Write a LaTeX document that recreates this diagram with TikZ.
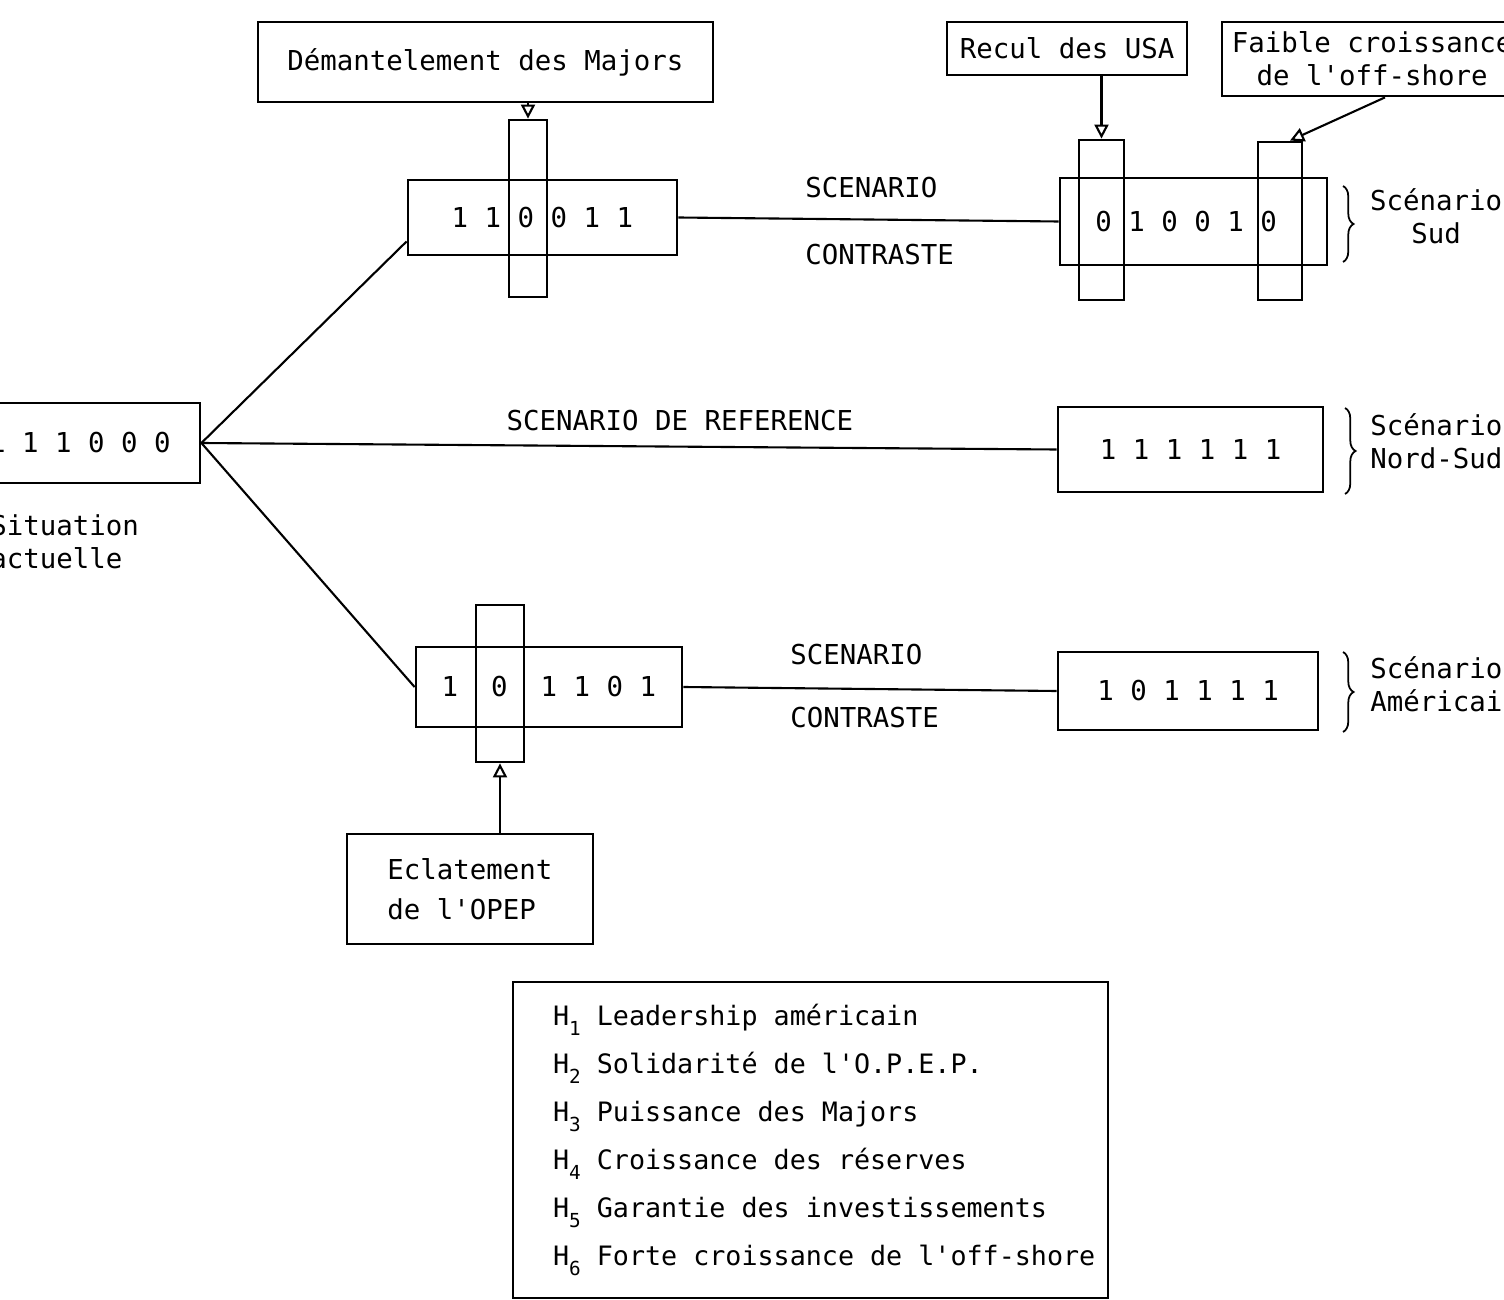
\documentclass[tikz,border=0pt]{standalone}
\usepackage{fontspec}
\setmonofont{DejaVu Sans Mono}
\usetikzlibrary{arrows.meta,positioning,calc,decorations.pathreplacing}
\newcommand{\hypline}[2]{\mbox{\spaceskip=0pt\xspaceskip=0pt H\raisebox{-0.65ex}{\fontsize{11}{11}\selectfont#1} #2}}
\tikzset{
    % Base style: typewriter text, box sizes given in scan pixels
    base/.style={font=\ttfamily\fontsize{15.6}{19}\selectfont, inner sep=0pt},
    px size/.style 2 args={minimum width=#1*0.02cm, minimum height=#2*0.02cm},
    % Boxes holding the six hypotheses
    codebox/.style={base, draw, line width=1.6pt},
    % Vertical strip over the hypothesis that changes
    strip/.style={draw, line width=1.6pt, inner sep=0pt},
    % Event boxes
    eventbox/.style={base, draw, line width=1.6pt, align=left},
    % Plain labels
    tag/.style={base, align=left},
    % Connectors
    link/.style={line width=1.2pt},
    arrow/.style={-{Triangle[open, length=8pt, width=8pt]}, line width=1.2pt},
    scenbrace/.style={decorate, decoration={brace, amplitude=6pt}, line width=1pt},
}

\begin{document}
\begin{tikzpicture}[x=0.02cm, y=-0.02cm]
    \useasboundingbox (0,0) rectangle (1504,1300);
    \clip (0,0) rectangle (1504,1300);

    % Present situation
    \node (now) [codebox, px size={240}{80}] at (80,443) {1 1 1 0 0 0};
    \node (nowtag) [tag, anchor=west] at (-10,542) {Situation\\actuelle};

    % Upper branch
    \node (top) [codebox, px size={269}{75}] at (542.5,217.5) {1 1 0 0 1 1};
    \node (topstrip) [strip, px size={38}{177}] at (528,208.5) {};
    \node (majors) [eventbox, px size={455}{80}] at (485.5,62) {Démantelement des Majors};
    \node (sud) [codebox, px size={267}{87}] at (1193.5,221.5) {\hspace{-0.3cm}0 1 0 0 1 0};
    \node (sudA) [strip, px size={45}{160}] at (1101.5,220) {};
    \node (sudB) [strip, px size={44}{158}] at (1280,221) {};
    \node (usa) [eventbox, px size={240}{53}] at (1067,48.5) {Recul des USA};
    \node (offshore) [eventbox, align=center, px size={300}{74}] at (1372,59) {Faible croissance\\de l'off-shore};
    \node (sc1) [tag, anchor=west] at (805,188) {SCENARIO};
    \node (co1) [tag, anchor=west] at (805,255) {CONTRASTE};

    % Middle branch
    \node (ns) [codebox, px size={265}{85}] at (1190.5,449.5) {1 1 1 1 1 1};
    \node (ref) [tag] at (680,421) {SCENARIO DE REFERENCE};

    % Lower branch
    \node (bot) [codebox, px size={266}{80}] at (549,687) {1~~0~~1 1 0 1};
    \node (botstrip) [strip, px size={48}{157}] at (500,683.5) {};
    \node (opep) [eventbox, px size={246}{110}] at (470,889) {Eclatement\\[4pt]de l'OPEP};
    \node (am) [codebox, px size={260}{78}] at (1188,691) {1 0 1 1 1 1};
    \node (sc2) [tag, anchor=west] at (790,655) {SCENARIO};
    \node (co2) [tag, anchor=west] at (790,718) {CONTRASTE};

    % Scenario names
    \draw [scenbrace] (1343,186) -- (1343,262);
    \node (sudtag) [tag, align=center] at (1436,216) {Scénario\\Sud};
    \draw [scenbrace] (1345,408) -- (1345,494);
    \node (nstag) [tag, anchor=west] at (1370,441) {Scénario\\Nord-Sud};
    \draw [scenbrace] (1343,652) -- (1343,732);
    \node (amtag) [tag, anchor=west] at (1370,684) {Scénario\\Américain};

    % Hypotheses
    \node (legend) [base, draw, line width=1.6pt, align=left, text width=10.3cm, inner xsep=0.8cm,
        px size={595}{316}, font=\ttfamily\fontsize{15.2}{27.3}\selectfont] at (810.5,1140)
        {\hypline{1}{Leadership américain}\\
         \hypline{2}{Solidarité de l'O.P.E.P.}\\
         \hypline{3}{Puissance des Majors}\\
         \hypline{4}{Croissance des réserves}\\
         \hypline{5}{Garantie des investissements}\\
         \hypline{6}{Forte croissance de l'off-shore}};

    \draw [link] (now.east) -- (top.190);
    \draw [link] (now.east) -- (ns.west);
    \draw [link] (now.east) -- (bot.west);
    \draw [link] (top.east) -- (sud.west);
    \draw [link] (bot.east) -- (am.west);
    \draw [arrow] (majors.south -| topstrip.north) -- (topstrip.north);
    \draw [arrow] (usa.south -| sudA.north) -- (sudA.north);
    \draw [arrow] ([xshift=0.26cm]offshore.south) -- ([xshift=0.2cm]sudB.north);
    \draw [arrow] (opep.north -| botstrip.south) -- (botstrip.south);
\end{tikzpicture}
\end{document}
